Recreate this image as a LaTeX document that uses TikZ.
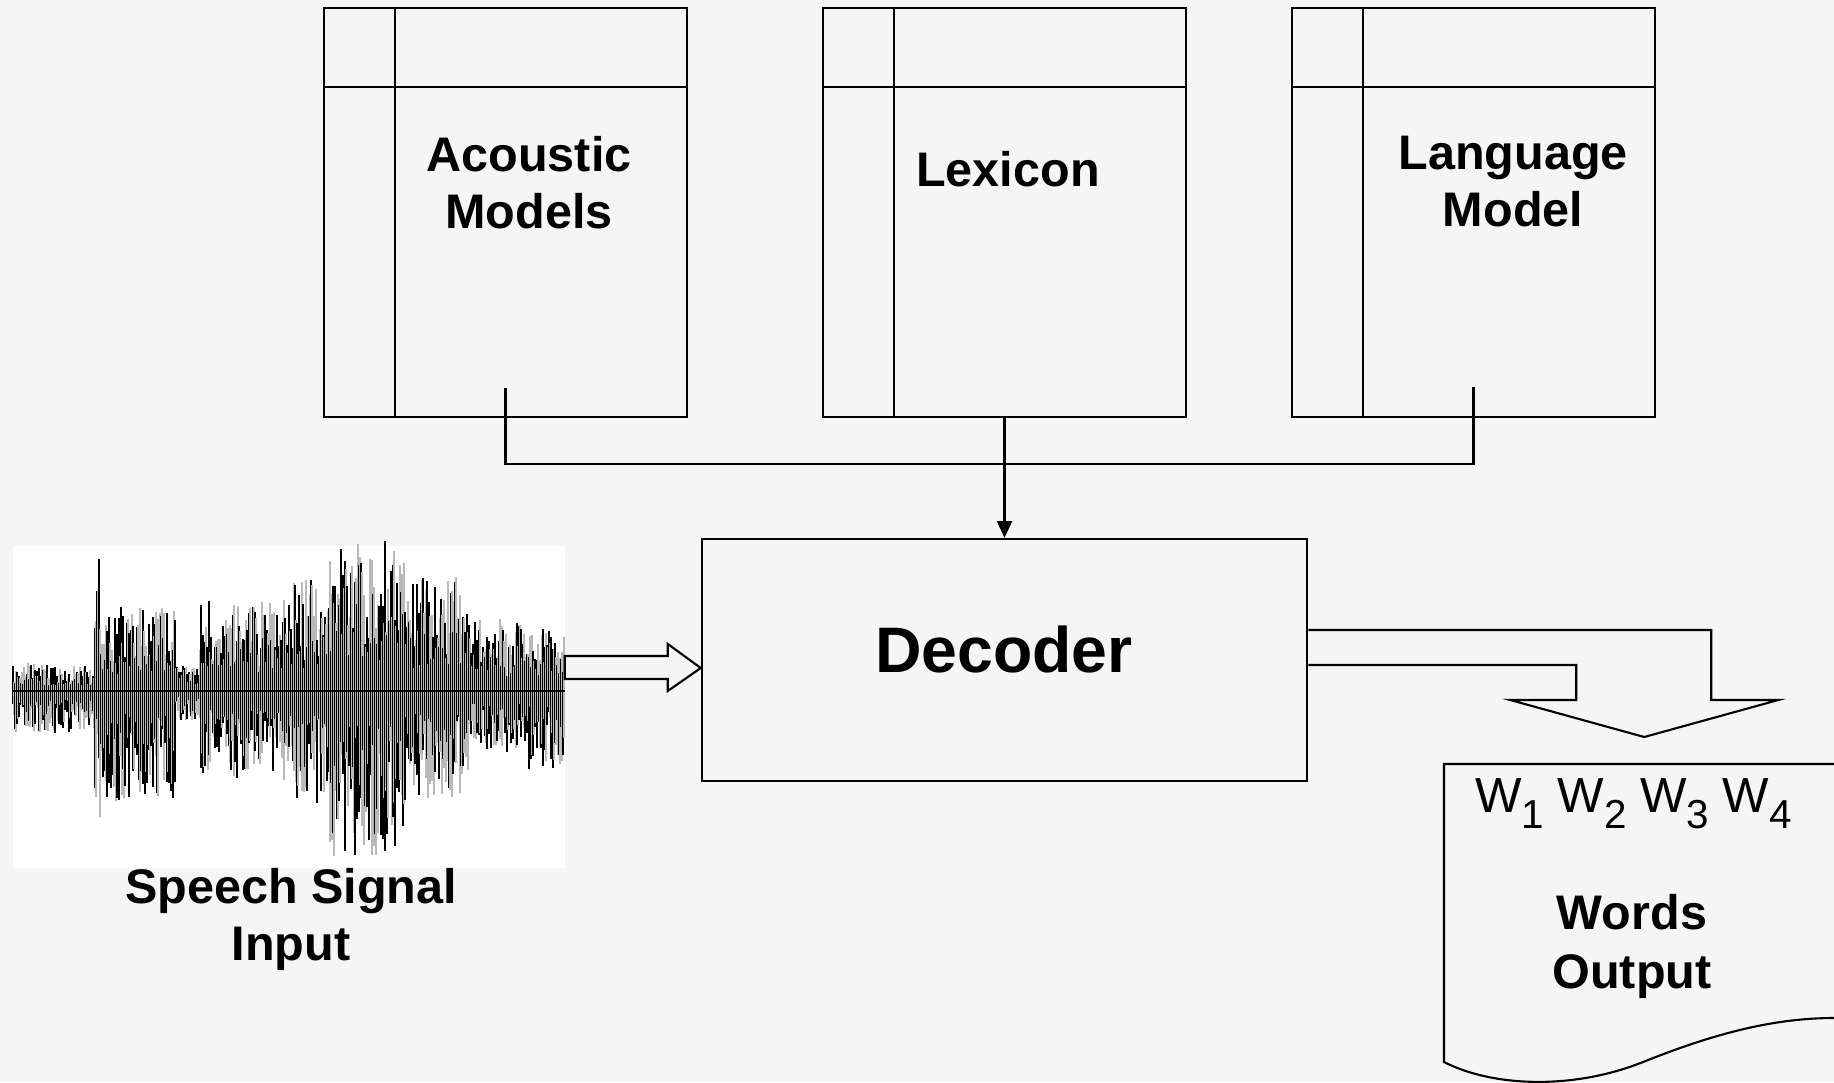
\documentclass[tikz,border=0pt]{standalone}
\usepackage{fontspec}
\setmainfont{Liberation Sans}
\usetikzlibrary{calc,arrows.meta}
\definecolor{bgcol}{HTML}{F5F5F5}
\tikzset{
  kbox/.style={draw, inner sep=0pt, minimum width=3.63cm, minimum height=4.09cm},
  lbl/.style={font=\fontsize{13.8}{16.2}\selectfont\bfseries, align=center, inner sep=0pt, anchor=north},
}
\newcommand{\wsub}[1]{\raisebox{-4.6pt}{\fontsize{11.5}{11.5}\selectfont #1}}

\begin{document}
\begin{tikzpicture}[x=0.01cm, y=-0.01cm, line width=0.6pt]
\fill[bgcol] (0,0) rectangle (1834,1082);
\useasboundingbox (0,0) rectangle (1834,1082);
% Knowledge sources
\node[kbox] (am) at (505.5,212.5) {};
\node[kbox] (lex) at (1004.5,212.5) {};
\node[kbox] (lm) at (1473.5,212.5) {};
\foreach \b in {am,lex,lm}{
  \draw ([xshift=0.72cm]\b.north west) -- ([xshift=0.72cm]\b.south west);
  \draw ([yshift=-0.8cm]\b.north west) -- ([yshift=-0.8cm]\b.north east);
}
\node[lbl] (amtext) at (529,135) {Acoustic\\Models};
\node[lbl] (lextext) at (1008,150) {Lexicon};
\node[lbl] (lmtext) at (1513,135) {Language\\Model};
% Decoder
\node[draw, inner sep=0pt, minimum width=6.05cm, minimum height=2.42cm] (dec) at (1004.5,660) {};
\node[font=\fontsize{18.3}{20}\selectfont\bfseries, inner sep=0pt, anchor=north] (dectext) at (1004,625) {Decoder};
% Connectors
\draw ($(am.south)+(0,-30)$) -- ($(am.south)+(0,46)$) -| ($(lm.south)+(0,-31)$);
\draw[-{Triangle[width=4.3pt,length=4.8pt]}] (lex.south) -- (dec.north);
% Speech signal
\node[fill=white, inner sep=0pt, minimum width=5.52cm, minimum height=3.22cm] (wave) at (289,707) {};
\pgfmathsetseed{7}
\begin{scope}[line width=0.3pt]
\foreach \xa/\xb/\up/\dn in {13/94/28/42, 95/101/140/130, 102/175/85/110, 176/199/30/30,
    200/281/92/88, 282/328/112/112, 329/404/150/165, 405/468/115/110, 469/527/72/62, 528/564/62/78}{
  \foreach \x in {\xa,...,\xb}{
    \pgfmathsetmacro\u{\up*(0.2+0.8*rnd)}
    \pgfmathsetmacro\d{\dn*(0.2+0.8*rnd)}
    \ifodd\x \def\wc{black} \else \def\wc{gray!55} \fi
    \draw[\wc] (\x,691-\u) -- (\x,691+\d);
  }
}
\draw (13,691) -- (565,691);
\end{scope}
\node[lbl] (wavetext) at (291,867) {Speech Signal\\Input};
% Input arrow
\coordinate (intip) at ($(dec.west)+(0,8)$);
\draw (intip) -- ++(-33,-24) -- ++(0,12) -- ++(-103,0) -- ++(0,23) -- ++(103,0) -- ++(0,12) -- cycle;
% Output arrow
\draw ($(dec.east)+(0,5)$) -- ++(268,0) -- ++(0,35) -- ++(-66,0) -- ++(134,37) -- ++(134,-37)
  -- ++(-67,0) -- ++(0,-70) -- ($(dec.east)+(0,-30)$);
% Words output
\draw (1834,764) -- (1444,764) -- (1444,1062) .. controls (1493,1087) and (1573,1090) .. (1643,1062)
  .. controls (1713,1034) and (1773,1018) .. (1834,1018);
\node[anchor=base west, inner sep=0pt, font=\fontsize{14}{14}\selectfont] (wseq) at (1474,812)
  {W\wsub{1} W\wsub{2} W\wsub{3} W\wsub{4}};
\node[lbl, font=\fontsize{13.8}{16.8}\selectfont\bfseries] (outtext) at (1632,893) {Words\\Output};
\end{tikzpicture}
\end{document}
